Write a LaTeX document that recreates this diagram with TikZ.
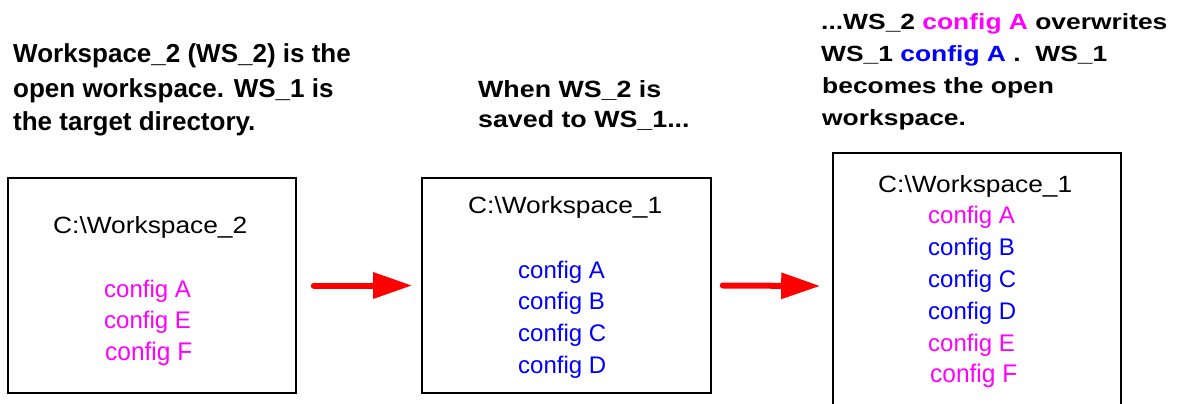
\documentclass[tikz,border=0pt]{standalone}
\usepackage{fontspec}
\setmainfont{Liberation Sans}
\usepackage{graphicx}
\usetikzlibrary{arrows.meta}
\definecolor{cfgmag}{RGB}{255,0,255}
\definecolor{cfgblue}{RGB}{0,0,255}
\definecolor{arrred}{RGB}{255,0,0}
\newcommand{\hsc}[2]{\scalebox{#1}[1]{#2}}
\begin{document}
\begin{tikzpicture}[x=1pt,y=-1pt,
  wsbox/.style={draw=black, line width=1.6pt, rectangle, inner sep=0pt},
  capA/.style={font=\fontsize{26}{30}\selectfont\bfseries, anchor=base west, inner sep=0pt},
  capB/.style={font=\fontsize{23.5}{28}\selectfont\bfseries, anchor=base west, inner sep=0pt},
  capC/.style={font=\fontsize{22}{26}\selectfont\bfseries, anchor=base west, inner sep=0pt},
  wstitle/.style={font=\fontsize{23.5}{28}\selectfont, anchor=base west, inner sep=0pt},
  cfg/.style={font=\fontsize{24}{28}\selectfont, anchor=base west, inner sep=0pt},
  cfgbig/.style={font=\fontsize{25.5}{28}\selectfont, anchor=base west, inner sep=0pt},
  flow/.style={arrred, line width=6pt, line cap=round, -{Triangle[length=39pt,width=25pt]}}
]
\useasboundingbox (0,0) rectangle (1181,404);
\fill[white] (0,0) rectangle (1181,404);

% captions
\node[capA] (t1a) at (13,63) {Workspace\_2 (WS\_2) is the};
\node[capA] (t1b) at (13,97) {open workspace. WS\_1 is};
\node[capA] (t1c) at (13,130) {the target directory.};

\node[capB] (t2a) at (478,98) {\hsc{1.14}{When WS\_2 is}};
\node[capB] (t2b) at (478,128) {\hsc{1.14}{saved to WS\_1...}};

\node[capC] (t3a) at (821,30) {\hsc{1.2}{...WS\_2 \textcolor{cfgmag}{config A} overwrites}};
\node[capC] (t3b) at (821,62) {\hsc{1.2}{WS\_1 \textcolor{cfgblue}{config A} .\ \ WS\_1}};
\node[capC] (t3c) at (822,93) {\hsc{1.2}{becomes the open}};
\node[capC] (t3d) at (822,125) {\hsc{1.2}{workspace.}};

% boxes
\node[wsbox, minimum width=288pt, minimum height=215pt] (box1) at (152,285.5) {};
\node[wsbox, minimum width=289pt, minimum height=215pt] (box2) at (566.5,285.5) {};
\begin{scope}
\clip (0,0) rectangle (1181,404);
\node[wsbox, minimum width=288pt, minimum height=266pt] (box3) at (977,286) {};
\end{scope}

% box 1 contents
\node[wstitle] (b1t) at (53,233) {\hsc{1.12}{C:\textbackslash Workspace\_2}};
\node[cfg, cfgmag] (b1a) at (104,297) {config A};
\node[cfg, cfgmag] (b1e) at (104,328) {config E};
\node[cfgbig, cfgmag] (b1f) at (105,360) {\hsc{0.96}{config F}};

% box 2 contents
\node[wstitle] (b2t) at (468,213) {\hsc{1.12}{C:\textbackslash Workspace\_1}};
\node[cfg, cfgblue] (b2a) at (518,278) {config A};
\node[cfg, cfgblue] (b2b) at (518,309) {config B};
\node[cfg, cfgblue] (b2c) at (518,341) {config C};
\node[cfg, cfgblue] (b2d) at (518,373) {config D};

% box 3 contents
\node[wstitle] (b3t) at (878,192) {\hsc{1.12}{C:\textbackslash Workspace\_1}};
\node[cfg, cfgmag] (b3a) at (928,223) {config A};
\node[cfg, cfgblue] (b3b) at (928,255) {config B};
\node[cfg, cfgblue] (b3c) at (928,287) {config C};
\node[cfg, cfgblue] (b3d) at (928,319) {config D};
\node[cfg, cfgmag] (b3e) at (928,351) {config E};
\node[cfgbig, cfgmag] (b3f) at (930,382) {\hsc{0.96}{config F}};

% arrows
\draw[flow] ([xshift=17pt]box1.east) -- ([xshift=-9pt]box2.west);
\draw[flow] ([xshift=11pt]box2.east) -- ([xshift=-12pt]box3.west);
\end{tikzpicture}
\end{document}
